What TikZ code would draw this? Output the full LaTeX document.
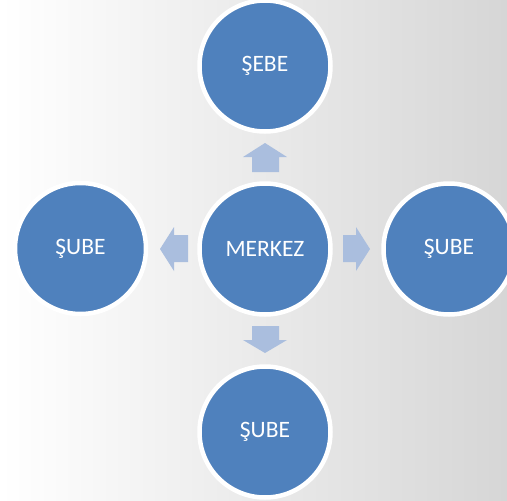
\documentclass[tikz,border=0pt]{standalone}
\usepackage{fontspec}
\setmainfont{Carlito}
\definecolor{hubblue}{RGB}{79,129,189}
\definecolor{arrowblue}{RGB}{170,190,222}
\definecolor{bgright}{RGB}{214,214,214}
\begin{document}
\begin{tikzpicture}[x=1pt,y=-1pt,
  hub/.style={circle,draw=white,line width=4.5pt,fill=hubblue,minimum size=131pt,inner sep=0pt,
    text=white,font=\fontsize{23.5}{27}\selectfont},
  blockarrow/.style={fill=arrowblue,draw=none}]
\useasboundingbox (0,0) rectangle (507,501);
\shade[left color=white,right color=bgright] (0,0) rectangle (507,501);
\node[hub] (merkez) at (265,249) {MERKEZ};
\node[hub] (top) at (265,66) {ŞEBE};
\node[hub] (left) at (80.5,248.5) {ŞUBE};
\node[hub] (right) at (449,249) {ŞUBE};
\node[hub] (bottom) at (265,432) {ŞUBE};
% up arrow
\fill[blockarrow] (265,143) -- (287,157) -- (279,157) -- (279,172) -- (252,172) -- (252,157) -- (243,157) -- cycle;
% down arrow
\fill[blockarrow] (265,353) -- (287,340) -- (279,340) -- (279,326) -- (252,326) -- (252,340) -- (243,340) -- cycle;
% left arrow
\fill[blockarrow] (160,249) -- (174,227) -- (174,235) -- (188,235) -- (188,262) -- (174,262) -- (174,271) -- cycle;
% right arrow
\fill[blockarrow] (370,249) -- (356,227) -- (356,235) -- (343,235) -- (343,262) -- (356,262) -- (356,271) -- cycle;
\end{tikzpicture}
\end{document}
